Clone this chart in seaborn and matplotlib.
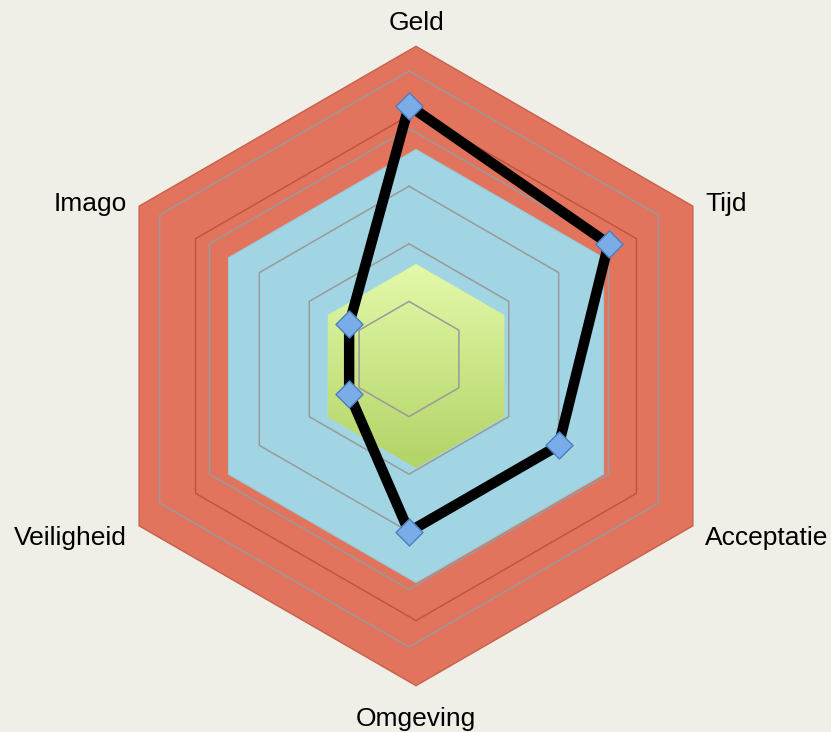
import numpy as np
import matplotlib
matplotlib.use("Agg")
import matplotlib.pyplot as plt
import seaborn as sns
from matplotlib.transforms import ScaledTranslation
from matplotlib.image import BboxImage
from matplotlib.colors import LinearSegmentedColormap

# data
categories = ["Geld", "Tijd", "Acceptatie", "Omgeving", "Veiligheid", "Imago"]
scores = [4.4, 4.0, 3.0, 3.0, 1.2, 1.2]
# background bands (same value on every axis)
red_outer = 5.55
red_inner = 4.42
blue_band = 3.76
green_band = 1.77
grid_levels = [1, 2, 3, 4, 5]

bg = "#EFEFE7"
sns.set_style("white", {"axes.facecolor": bg, "figure.facecolor": bg})
plt.rcParams["font.family"] = ["Liberation Sans", "DejaVu Sans"]
plt.rcParams["text.color"] = "black"

fig = plt.figure(figsize=(8.31, 7.32), dpi=100)
cx, cy = 409, 732 - 359
R = 345.6
ax = fig.add_axes([(cx - R) / 831, (cy - R) / 732, 2 * R / 831, 2 * R / 732],
                  projection="polar")
ax.set_theta_zero_location("N")
ax.set_theta_direction(-1)
ax.set_ylim(0, 6)
ax.set_facecolor(bg)
ax.grid(False)
ax.set_xticks([])
ax.set_yticks([])
ax.spines["polar"].set_visible(False)

theta = np.linspace(0, 2 * np.pi, len(categories), endpoint=False)
theta_c = np.append(theta, theta[0])
n = len(theta_c)

# the filled bands sit slightly shifted down-right
shift = ax.transData + ScaledTranslation(7 / 100, -7 / 100, fig.dpi_scale_trans)
label_shift = ax.transData + ScaledTranslation(7 / 100, -12 / 100, fig.dpi_scale_trans)

ax.fill(theta_c, [red_outer] * n, color="#E2735D", ec="#C9604C", lw=1, transform=shift, zorder=1)
ax.fill(theta_c, [red_inner] * n, color="#E2735D", ec="#C0513E", lw=1, transform=shift, zorder=2)
ax.fill(theta_c, [blue_band] * n, color="#A2D5E3", ec="#98CAD8", lw=0.8, transform=shift, zorder=3)
green = ax.fill(theta_c, [green_band] * n, color="#CBE58A", lw=0, transform=shift, zorder=4)[0]

# vertical gradient for the green band
cmap = LinearSegmentedColormap.from_list("g", ["#E3F9AA", "#B2D366"])
img = BboxImage(lambda r: green.get_window_extent(r), cmap=cmap, origin="upper")
img.set_data(np.linspace(0, 1, 256).reshape(-1, 1))
img.set_clip_path(green)
img.set_zorder(4.5)
ax.add_artist(img)

# hexagonal grid
for g in grid_levels:
    ax.plot(theta_c, [g] * n, color="#9A9A9A", lw=1.1, zorder=5)

# score line
sc = scores + scores[:1]
sns.lineplot(x=theta_c, y=sc, sort=False, estimator=None, color="black",
             lw=7.5, ax=ax, zorder=6)
sns.scatterplot(x=theta, y=scores, marker="D", s=190, color="#7AACE8",
                edgecolor="#4D7EC0", linewidth=1, ax=ax, zorder=7)

# axis labels
for t, lab in zip(theta, categories):
    deg = np.degrees(t)
    if deg in (0, 180):
        ax.text(t, 6.05, lab, ha="center", va="center", fontsize=19, transform=label_shift)
    elif deg < 180:
        ax.text(t, 5.8, lab, ha="left", va="center", fontsize=19, transform=label_shift)
    else:
        ax.text(t, 5.8, lab, ha="right", va="center", fontsize=19, transform=label_shift)

ax.set_xlabel("")
ax.set_ylabel("")
fig.savefig("out.png", dpi=100, facecolor=bg)
